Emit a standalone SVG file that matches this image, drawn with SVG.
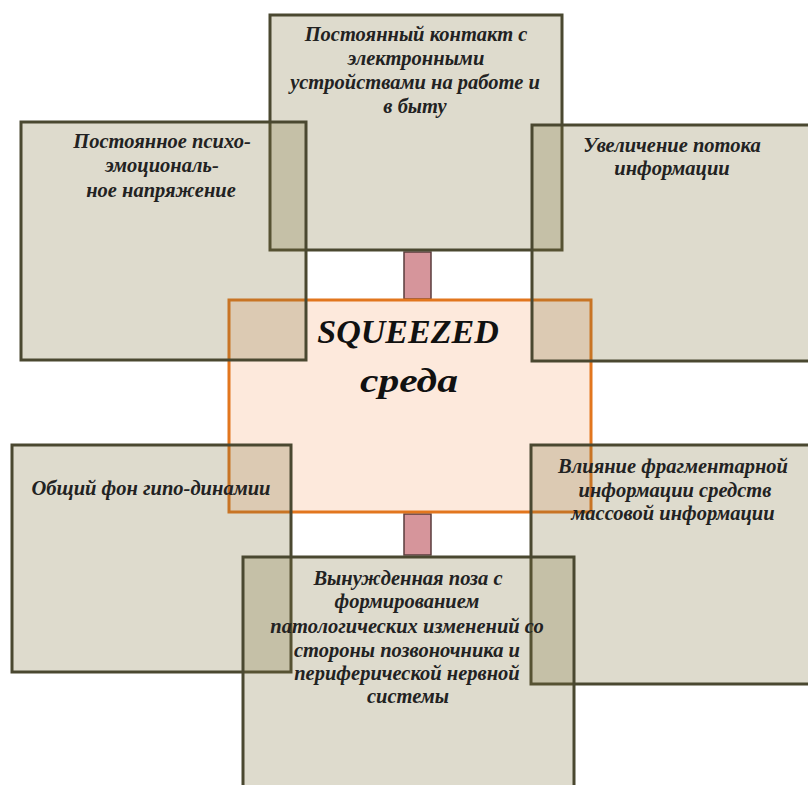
<svg xmlns="http://www.w3.org/2000/svg" width="808" height="785" viewBox="0 0 808 785">
<style>
.box{fill:#7b7038;fill-opacity:0.25;stroke:#4a4830;stroke-width:3}
.center{fill:#fde9dc;stroke:#e2761e;stroke-width:3}
.link{fill:#d6959b;stroke:#5a3c3c;stroke-width:1.5}
text{font-family:"Liberation Serif","DejaVu Serif",serif;font-weight:bold;font-style:italic;fill:#222222;text-anchor:middle}
.t{font-size:20.5px}
.big{font-size:34px;fill:#111111}
</style>
<rect width="808" height="785" fill="#ffffff"/>
<g id="connectors">
<rect class="link" x="404" y="252" width="27" height="47"/>
<rect class="link" x="404" y="514" width="27" height="41"/>
</g>
<g id="center">
<rect class="center" x="229" y="300" width="362" height="212"/>
<text class="big" x="408" y="343">SQUEEZED</text>
<text class="big" x="409" y="392" font-size="36" textLength="98" lengthAdjust="spacingAndGlyphs">среда</text>
</g>
<g id="top">
<rect class="box" x="270" y="15" width="292" height="235"/>
<text class="t" x="416" y="41">Постоянный контакт с</text>
<text class="t" x="416" y="65">электронными</text>
<text class="t" x="415" y="89">устройствами на работе и</text>
<text class="t" x="415" y="113">в быту</text>
</g>
<g id="top-left">
<rect class="box" x="21" y="122" width="285" height="238"/>
<text class="t" x="162" y="148">Постоянное психо-</text>
<text class="t" x="162" y="172">эмоциональ-</text>
<text class="t" x="161" y="197">ное напряжение</text>
</g>
<g id="top-right">
<rect class="box" x="532" y="125" width="290" height="236"/>
<text class="t" x="672" y="152">Увеличение потока</text>
<text class="t" x="672" y="175">информации</text>
</g>
<g id="bottom-left">
<rect class="box" x="12" y="445" width="279" height="227"/>
<text class="t" x="151" y="495">Общий фон гипо-динамии</text>
</g>
<g id="bottom-right">
<rect class="box" x="531" y="445" width="290" height="239"/>
<text class="t" x="673" y="473">Влияние фрагментарной</text>
<text class="t" x="675" y="497">информации средств</text>
<text class="t" x="673" y="520">массовой информации</text>
</g>
<g id="bottom">
<rect class="box" x="243" y="557" width="331" height="240"/>
<text class="t" x="408" y="585">Вынужденная поза с</text>
<text class="t" x="407" y="608">формированием</text>
<text class="t" x="407" y="633">патологических изменений со</text>
<text class="t" x="407" y="657">стороны позвоночника и</text>
<text class="t" x="407" y="680">периферической нервной</text>
<text class="t" x="408" y="703">системы</text>
</g>
</svg>
